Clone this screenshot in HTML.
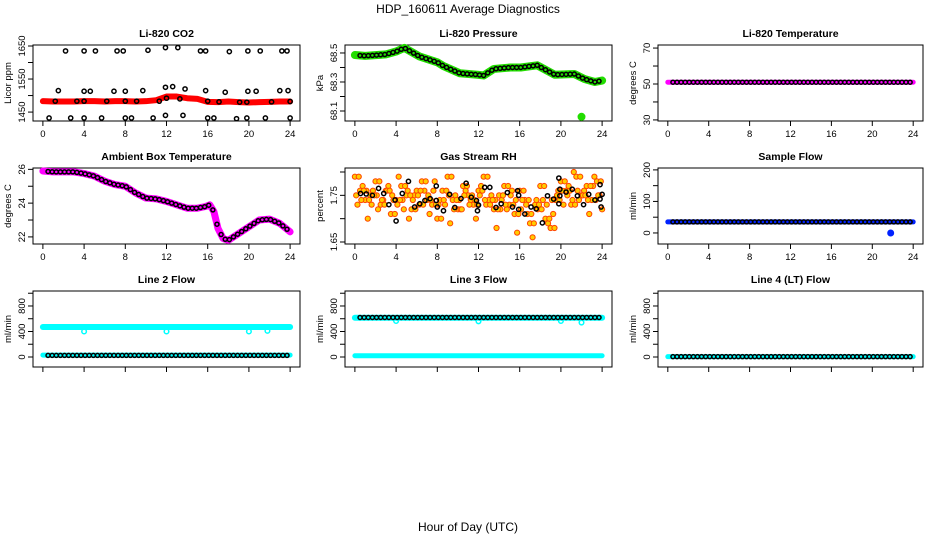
<!DOCTYPE html>
<html><head><meta charset="utf-8"><style>
html,body{margin:0;padding:0;background:#fff;}
svg text{font-family:"Liberation Sans",sans-serif;}
</style></head><body>
<svg id="c" width="936" height="540" xmlns="http://www.w3.org/2000/svg">
<text x="468" y="13" text-anchor="middle" font-size="12">HDP_160611  Average Diagnostics</text>
<text x="468" y="531" text-anchor="middle" font-size="12">Hour of Day (UTC)</text>
</svg>
<script>
// ---------- data ----------
const xTicks = [0,4,8,12,16,20,24];
const co2Hours = [0,1,2,3,4,5,6,7,8,9,10,11,12,13,14,15,16,17,18,19,20,21,22,23,24];
const co2Red = [1483,1482,1482,1482,1483,1483,1482,1483,1483,1482,1483,1486,1497,1497,1492,1490,1481,1480,1482,1480,1479,1480,1481,1482,1482];
const co2BlackT = [2.2,4.0,5.1,7.2,7.8,10.2,11.9,13.1,15.3,15.8,18.1,19.9,21.1,23.2,23.7, 1.5,4.0,4.6,6.9,8.0,9.7,11.9,12.6,13.8,15.8,17.7,19.9,20.7,23.0,23.8, 0.6,2.7,4.0,5.7,8.0,8.6,10.7,11.9,13.6,16.0,16.6,18.8,19.8,21.6,24.0, 1.2,3.3,4.0,6.2,8.0,9.1,11.3,12.0,13.3,16.0,17.1,19.1,19.8,22.2,24.0];
const co2BlackV = [1635,1635,1635,1635,1635,1637,1645,1645,1635,1635,1633,1635,1635,1635,1635, 1515,1513,1513,1513,1513,1515,1525,1527,1520,1515,1510,1513,1513,1515,1515, 1432,1432,1432,1432,1432,1432,1432,1440,1440,1432,1432,1430,1432,1432,1432, 1483,1483,1483,1483,1483,1483,1483,1492,1490,1483,1481,1480,1480,1481,1482];
const presT = [0,1,2,3,4,4.8,6.3,8,8.6,10.2,11.9,12.5,13.5,15.1,16.1,17.7,19.4,21.3,22.3,23.3,24];
const presV = [68.486,68.48,68.485,68.49,68.51,68.535,68.475,68.436,68.41,68.36,68.35,68.345,68.39,68.40,68.40,68.415,68.35,68.355,68.32,68.30,68.31];
const presOutT = [22]; const presOutV = [68.06];
const tempT = [0,24]; const tempV = [51,51];
const ambT = [0,1,2,3,4,5,6,7,8,9,10,11,12,13,14,15,15.8,16.2,16.6,17,17.5,18,19,20,21,22,23,24];
const ambV = [25.9,25.85,25.85,25.85,25.75,25.6,25.3,25.1,25.0,24.6,24.3,24.25,24.1,23.9,23.7,23.7,23.8,23.9,23.5,22.5,21.9,21.8,22.2,22.6,23.0,23.05,22.8,22.3];
const rhO1 = [1.79,1.76,1.74,1.75,1.78,1.73,1.76,1.71,1.74,1.77,1.75,1.72,1.76,1.78,1.74,1.73,1.70,1.76,1.79,1.74,1.72,1.77,1.75,1.73,1.76,1.79,1.74,1.72,1.75,1.77,1.73,1.71,1.76,1.74,1.69,1.73,1.77,1.70,1.68,1.74,1.78,1.76,1.73,1.79,1.75,1.77,1.74,1.78,1.72];
const rhO2 = [1.73,1.77,1.70,1.76,1.72,1.74,1.77,1.74,1.79,1.72,1.70,1.75,1.73,1.76,1.71,1.78,1.74,1.73,1.69,1.75,1.72,1.76,1.74,1.70,1.77,1.73,1.75,1.68,1.74,1.72,1.76,1.67,1.74,1.71,1.66,1.72,1.74,1.69,1.71,1.76,1.73,1.77,1.80,1.74,1.76,1.71,1.79,1.75];
const rhO3 = [1.75,1.74,1.76,1.73,1.75,1.74,1.76,1.75,1.73,1.74,1.76,1.74,1.75,1.73,1.75,1.76,1.73,1.74,1.75,1.72,1.74,1.75,1.73,1.74,1.75,1.74,1.73,1.74,1.72,1.73,1.75,1.74,1.72,1.73,1.71,1.74,1.72,1.73,1.74,1.75,1.76,1.75,1.74,1.76,1.75,1.74,1.77,1.75];
const rhBT = [0.55,1.1,1.7,2.3,2.8,3.3,3.9,4.0,4.6,5.2,5.8,6.3,6.8,7.3,7.9,7.9,8.0,8.6,9.2,9.7,10.3,10.8,11.3,11.8,12.0,11.9,12.6,13.1,13.7,14.2,14.8,15.3,15.8,15.9,15.9,16.5,17.1,17.6,18.2,18.7,19.3,19.8,19.9,19.9,19.8,20.5,21.1,21.6,22.2,22.7,23.3,23.8,24.0,23.9,23.8];
const rhBV = [1.754,1.753,1.75,1.765,1.754,1.73,1.74,1.695,1.754,1.78,1.725,1.732,1.739,1.743,1.77,1.739,1.725,1.717,1.752,1.724,1.743,1.776,1.746,1.739,1.729,1.717,1.767,1.767,1.724,1.732,1.756,1.725,1.76,1.75,1.72,1.71,1.725,1.721,1.691,1.749,1.742,1.787,1.763,1.749,1.732,1.757,1.763,1.749,1.73,1.752,1.74,1.773,1.752,1.725,1.742];
const sampleT = [0,24]; const sampleV = [35,35];
const sampleOutT = [21.8]; const sampleOutV = [0];
const l2Cyan = [470,470]; const l2Black = [25,25]; const l2CyanLow = [30,30];
const l3Cyan = [615,615]; const l3Black = [620,620]; const l3CyanLow = [20,20];
const l3DipT = [4,12,20,22]; const l3DipV = [565,560,565,540];
const l2DipT = [4,12,20,21.8]; const l2DipV = [400,400,400,410];
const l4Cyan = [5,5]; const l4Black = [5,5];
const spanT = [0,24];

// ---------- layout ----------
const NS = "http://www.w3.org/2000/svg";
const svg = document.getElementById('c');
const colX = [[33,300],[345,612],[658,923]];
const rowY = [[45,121],[168,244],[291,367]];
function mk(tag, attrs, parent){ const e=document.createElementNS(NS,tag); for(const k in attrs) e.setAttribute(k,attrs[k]); (parent||svg).appendChild(e); return e; }

function panel(c, r, name, title, ylab, yDom, yTicks, yLabs, showX){
  const g = mk('g',{});
  
  
  const [x0,x1]=colX[c], [y0,y1]=rowY[r];
  const sx = h => x0 + (h+0.96)/25.92*(x1-x0);
  const sy = v => y1 - (v-yDom[0])/(yDom[1]-yDom[0])*(y1-y0);
  const box = mk('rect',{x:x0,y:y0,width:x1-x0,height:y1-y0,fill:'none',stroke:'#000','stroke-width':1},g);
  
  
  const t = mk('text',{x:(x0+x1)/2,y:y0-8,'text-anchor':'middle','font-size':10.5,'font-weight':'bold'},g);
  t.textContent = title;
  
  
  const yl = mk('text',{transform:`translate(${x0-22},${(y0+y1)/2}) rotate(-90)`,'text-anchor':'middle','font-size':9.5},g);
  yl.textContent = ylab;
  
  
  mk('line',{x1:sx(0),x2:sx(24),y1:y1,y2:y1,stroke:'#000'},g);
  xTicks.forEach(h=>{
    mk('line',{x1:sx(h),x2:sx(h),y1:y1,y2:y1+5,stroke:'#000'},g);
    if(showX){ const l=mk('text',{x:sx(h),y:y1+16,'text-anchor':'middle','font-size':9.5},g); l.textContent=h;
      
       }
  });
  yTicks.forEach(v=>{
    mk('line',{x1:x0-5,x2:x0,y1:sy(v),y2:sy(v),stroke:'#000'},g);
  });
  yLabs.forEach(v=>{
    const l=mk('text',{transform:`translate(${x0-8},${sy(v)}) rotate(-90)`,'text-anchor':'middle','font-size':9.5},g);
    l.textContent=v;
    
    
  });
  return {g,sx,sy};
}
function line(p, T, V, col, w, name){
  const pl = mk('polyline',{points:T.map((t,i)=>p.sx(t)+','+p.sy(V[i])).join(' '),fill:'none',stroke:col,'stroke-width':w,'stroke-linejoin':'round','stroke-linecap':'round'},p.g);
  
  
}
function pts(p, T, V, stroke, fill, r, w, name){
  T.forEach((t,i)=>{
    const e = mk('circle',{cx:p.sx(t),cy:p.sy(V[i]),r:r,fill:fill,stroke:stroke,'stroke-width':w},p.g);
    
    
  });
}
function denseBlack(p, T, V, step, name){
  const ts=[], vs=[];
  for(let t=T[0]+0.5;t<=T[T.length-1]+0.001;t+=step){ ts.push(t);
    let i=0; while(i<T.length-2 && T[i+1]<t) i++;
    const f=(t-T[i])/(T[i+1]-T[i]); vs.push(V[i]+(V[i+1]-V[i])*Math.max(0,Math.min(1,f))); }
  pts(p, ts, vs, '#000', 'none', 2, 1.5, name);
}

let p = panel(0,0,'co2','Li-820 CO2','Licor ppm',[1423,1653],[1450,1500,1550,1600,1650],[1450,1550,1650],true);
line(p, co2Hours, co2Red, '#ff0000', 6, 'co2-red-series');
pts(p, co2BlackT, co2BlackV, '#000', 'none', 2.1, 1.5, 'co2-black-point');
p = panel(1,0,'pressure','Li-820 Pressure','kPa',[68.031,68.555],[68.1,68.2,68.3,68.4,68.5],[68.1,68.3,68.5],true);
line(p, presT, presV, '#22dd00', 8, 'pressure-green-series');
pts(p, presOutT, presOutV, '#22dd00', '#22dd00', 3.5, 1, 'pressure-outlier');
denseBlack(p, presT, presV, 0.4, 'pressure-black-point');
p = panel(2,0,'temperature','Li-820 Temperature','degrees C',[29.4,71.7],[30,40,50,60,70],[30,50,70],true);
line(p, tempT, tempV, '#ff00ff', 5, 'temperature-magenta-series');
denseBlack(p, tempT, tempV, 0.4, 'temperature-black-point');
p = panel(0,1,'ambient','Ambient Box Temperature','degrees C',[21.58,26.08],[22,23,24,25,26],[22,24,26],true);
line(p, ambT, ambV, '#ff00ff', 7, 'ambient-magenta-series');
denseBlack(p, ambT, ambV, 0.4, 'ambient-black-point');
p = panel(1,1,'rh','Gas Stream RH','percent',[1.6457,1.8086],[1.65,1.70,1.75,1.80],[1.65,1.75],true);
pts(p, rhO1.map((v,i)=>i*0.5), rhO1, '#ff4400', '#ffcc00', 2.6, 1, 'rh-orange-point');
pts(p, rhO2.map((v,i)=>0.25+i*0.5), rhO2, '#ff4400', '#ffcc00', 2.6, 1, 'rh-orange-point');
pts(p, rhO3.map((v,i)=>0.125+i*0.5), rhO3, '#ff4400', '#ffcc00', 2.6, 1, 'rh-orange-point');
pts(p, rhO3.map((v,i)=>0.375+i*0.5), rhO3.map((v,i)=>rhO1[i]), '#ff4400', '#ffcc00', 2.6, 1, 'rh-orange-point');
pts(p, rhBT, rhBV, '#000', 'none', 2.1, 1.5, 'rh-black-point');
p = panel(2,1,'sample-flow','Sample Flow','ml/min',[-35,206],[0,50,100,150,200],[0,100,200],true);
line(p, sampleT, sampleV, '#0022ff', 5, 'sample-flow-blue-series');
pts(p, sampleOutT, sampleOutV, '#0022ff', '#0022ff', 3, 1, 'sample-flow-outlier');
denseBlack(p, sampleT, sampleV, 0.4, 'sample-flow-black-point');
const fTicks=[0,200,400,600,800,1000], fLabs=[0,400,800];
p = panel(0,2,'line2-flow','Line 2 Flow','ml/min',[-157,1035],fTicks,fLabs,false);
line(p, spanT, l2Cyan, '#00ffff', 6, 'line2-cyan-series');
line(p, spanT, l2CyanLow, '#00ffff', 5, 'line2-cyan-low-series');
pts(p, l2DipT, l2DipV, '#00ffff', 'none', 2.3, 1.5, 'line2-cyan-dip');
denseBlack(p, spanT, l2Black, 0.4, 'line2-black-point');
p = panel(1,2,'line3-flow','Line 3 Flow','ml/min',[-157,1035],fTicks,fLabs,false);
line(p, spanT, l3Cyan, '#00ffff', 6, 'line3-cyan-series');
line(p, spanT, l3CyanLow, '#00ffff', 5, 'line3-cyan-low-series');
pts(p, l3DipT, l3DipV, '#00ffff', 'none', 2.3, 1.5, 'line3-cyan-dip');
denseBlack(p, spanT, l3Black, 0.4, 'line3-black-point');
p = panel(2,2,'line4-flow','Line 4 (LT) Flow','ml/min',[-157,1035],fTicks,fLabs,false);
line(p, spanT, l4Cyan, '#00ffff', 5, 'line4-cyan-series');
denseBlack(p, spanT, l4Black, 0.4, 'line4-black-point');
</script>
</body></html>
